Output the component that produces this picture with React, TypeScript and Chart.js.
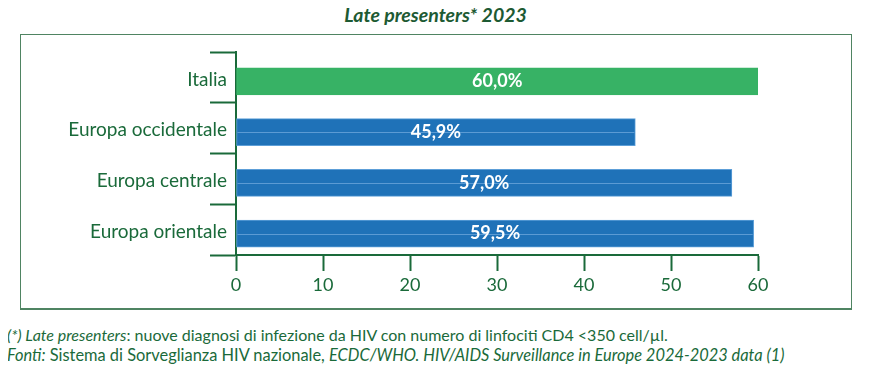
import React, { useEffect, useRef } from "react";
import { Chart, registerables } from "chart.js";

Chart.register(...registerables);

const categories: string[] = ["Italia", "Europa occidentale", "Europa centrale", "Europa orientale"];
const values: number[] = [60.0, 45.9, 57.0, 59.5];
const barColors: string[] = ["#37b265", "#1f72b8", "#1f72b8", "#1f72b8"];
const barBorders: string[] = ["#37b265", "#5d9fd8", "#5d9fd8", "#5d9fd8"];
const xTicks: number[] = [0, 10, 20, 30, 40, 50, 60];

const GREEN = "#1a6a3a";
const FONT = "Lato, 'Open Sans', sans-serif";

const fmt = (v: number) => v.toFixed(1).replace(".", ",") + "%";

const valueLabels = {
  id: "valueLabels",
  afterDatasetsDraw(chart: any) {
    const ctx = chart.ctx;
    const meta = chart.getDatasetMeta(0);
    ctx.save();
    meta.data.forEach((bar: any, i: number) => {
      if (i > 0) {
        ctx.strokeStyle = "rgba(140,190,235,0.55)";
        ctx.lineWidth = 1;
        ctx.beginPath();
        ctx.moveTo(bar.base + 1, Math.round(bar.y) + 0.5);
        ctx.lineTo(bar.x - 1, Math.round(bar.y) + 0.5);
        ctx.stroke();
      }
      ctx.fillStyle = "#ffffff";
      ctx.font = "bold 18px " + FONT;
      ctx.textAlign = "center";
      ctx.textBaseline = "middle";
      ctx.fillText(fmt(values[i]), (bar.x + bar.base) / 2, bar.y);
    });
    ctx.restore();
  },
};

function BarChart() {
  const ref = useRef<HTMLCanvasElement | null>(null);
  useEffect(() => {
    if (!ref.current) return;
    const chart = new Chart(ref.current, {
      type: "bar",
      data: {
        labels: categories,
        datasets: [
          {
            data: categories.map((c, i) => ({ x: values[i], y: i })) as any,
            backgroundColor: barColors,
            borderColor: barBorders,
            borderWidth: 1,
            borderSkipped: false,
            yAxisID: "y2",
            barThickness: 27,
          },
        ],
      },
      options: {
        indexAxis: "y",
        animation: false,
        responsive: false,
        maintainAspectRatio: false,
        layout: { padding: { left: 0, right: 92, top: 17, bottom: 0 } },
        plugins: { legend: { display: false }, tooltip: { enabled: false }, title: { display: false } },
        scales: {
          x: {
            type: "linear",
            min: 0,
            max: 60,
            afterBuildTicks: (s: any) => {
              s.ticks = xTicks.map((v) => ({ value: v }));
            },
            afterFit: (s: any) => {
              s.height = 52;
            },
            grid: {
              drawOnChartArea: false,
              drawTicks: true,
              tickLength: 16,
              tickWidth: 2,
              tickColor: GREEN,
            },
            border: { display: true, color: GREEN, width: 2 },
            ticks: { color: GREEN, font: { family: FONT, size: 18 }, padding: 3 },
          },
          y: {
            type: "category",
            offset: true,
            afterFit: (s: any) => {
              s.width = 215;
            },
            grid: {
              offset: true,
              drawOnChartArea: false,
              drawTicks: true,
              tickLength: 26,
              tickWidth: 2,
              tickColor: GREEN,
            },
            border: { display: true, color: GREEN, width: 2 },
            ticks: { color: GREEN, font: { family: FONT, size: 19 }, padding: -17, labelOffset: 2 },
          },
          y2: {
            type: "linear",
            display: false,
            offset: false,
            reverse: true,
            min: -0.58,
            max: 3.42,
          },
        },
      },
      plugins: [valueLabels],
    } as any);
    return () => chart.destroy();
  }, []);
  return <canvas ref={ref} width={829} height={272} style={{ display: "block", width: 829, height: 272 }} />;
}

export default function App() {
  const base: React.CSSProperties = { position: "absolute", color: GREEN, fontFamily: FONT, whiteSpace: "nowrap" };
  return (
    <div style={{ position: "relative", width: 871, height: 376, margin: -8, background: "#fff", overflow: "hidden" }}>
      <div style={{ ...base, left: 0, width: 871, top: 3, textAlign: "center", fontSize: 19.5, fontWeight: 700, fontStyle: "italic", color: "#1d5a33" }}>
        Late presenters* 2023
      </div>
      <div style={{ position: "absolute", left: 20, top: 34, width: 830, height: 273, border: "1px solid #4f8462", borderBottomWidth: 2 }}>
        <BarChart />
      </div>
      <div style={{ ...base, left: 7, top: 325, fontSize: 16 }}>
        <i>(*) Late presenters</i>: nuove diagnosi di infezione da HIV con numero di linfociti CD4 &lt;350 cell/µl.
      </div>
      <div style={{ ...base, left: 7, top: 345, fontSize: 16.4 }}>
        <i>Fonti:</i> Sistema di Sorveglianza HIV nazionale, <i>ECDC/WHO. HIV/AIDS Surveillance in Europe 2024-2023 data (1)</i>
      </div>
    </div>
  );
}
